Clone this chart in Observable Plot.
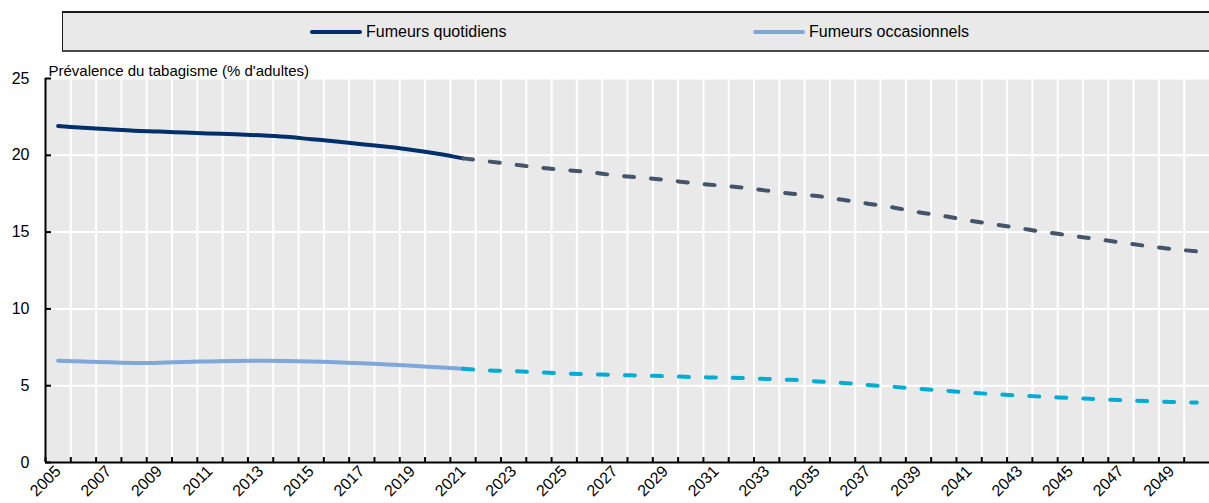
<!DOCTYPE html>
<html><head><meta charset="utf-8">
<script src="https://cdn.jsdelivr.net/npm/d3@7"></script>
<script src="https://cdn.jsdelivr.net/npm/@observablehq/plot@0.6"></script>
<style>
body{margin:0;background:#fff;font-family:"Liberation Sans",Arial,sans-serif;}
#legend{position:relative;width:1209px;height:52px;overflow:hidden;}
#legend .box{position:absolute;left:62px;top:11px;right:-2px;height:37px;background:#e9e9e9;border-top:2px solid #1a1a1a;border-bottom:2px solid #4a4a4a;border-left:1px solid #1a1a1a;}
.item{position:absolute;top:13px;height:37px;display:flex;align-items:center;font-size:16px;color:#000;white-space:nowrap}
.sw{display:inline-block;width:52px;height:4px;border-radius:2px;margin-right:4px}
</style></head><body>
<div id="legend"><div class="box"></div></div>
<div id="chart"></div>
<script>
const seriesNames = ["Fumeurs quotidiens", "Fumeurs occasionnels"];
const histYears = [2005,2006,2007,2008,2009,2010,2011,2012,2013,2014,2015,2016,2017,2018,2019,2020,2021];
const dailyHist = [21.9,21.8,21.7,21.6,21.55,21.48,21.42,21.37,21.3,21.2,21.05,20.9,20.72,20.55,20.35,20.1,19.8];
const occasHist = [6.63,6.57,6.52,6.48,6.5,6.55,6.58,6.61,6.62,6.61,6.58,6.52,6.46,6.38,6.3,6.2,6.1];
const projYears = [2021,2022,2023,2024,2025,2026,2027,2028,2029,2030,2031,2032,2033,2034,2035,2036,2037,2038,2039,2040,2041,2042,2043,2044,2045,2046,2047,2048,2049,2050];
const dailyProj = [19.8,19.6,19.4,19.2,19.05,18.9,18.7,18.55,18.4,18.2,18.05,17.9,17.7,17.5,17.35,17.1,16.85,16.6,16.3,16.05,15.75,15.5,15.25,15.0,14.78,14.55,14.33,14.1,13.9,13.75];
const occasProj = [6.1,6.0,5.95,5.87,5.8,5.75,5.7,5.66,5.62,5.57,5.53,5.5,5.44,5.38,5.28,5.18,5.05,4.93,4.8,4.68,4.55,4.45,4.36,4.28,4.2,4.13,4.06,4.0,3.94,3.9];
const yTicks = [0,5,10,15,20,25];
const xLabelYears = [2005,2007,2009,2011,2013,2015,2017,2019,2021,2023,2025,2027,2029,2031,2033,2035,2037,2039,2041,2043,2045,2047,2049];
const yLabel = "Prévalence du tabagisme (% d'adultes)";
const colors = {dailySolid:"#002f6c", dailyDash:"#44546a", occasSolid:"#7fa8d9", occasDash:"#00acd3"};

// legend
const legend = document.getElementById("legend");
[[seriesNames[0], colors.dailySolid, 310], [seriesNames[1], colors.occasSolid, 753]].forEach(([name, c, left]) => {
  const it = document.createElement("div");
  it.className = "item";
  it.style.left = left + "px";
  it.innerHTML = `<span class="sw" style="background:${c}"></span><span>${name}</span>`;
  legend.appendChild(it);
});

const allYears = Array.from(new Set([...histYears, ...projYears])).sort((a,b)=>a-b);
const boundaries = allYears.slice(0, -1).map(y => y + 0.5);
const x0 = allYears[0] - 0.5, x1 = allYears[allYears.length-1] + 0.5;

const rows = (years, vals) => years.map((year, i) => ({year, value: vals[i]}));

const chart = Plot.plot({
  width: 1209, height: 451,
  marginLeft: 45, marginRight: 0, marginTop: 26, marginBottom: 41,
  style: {fontFamily: '"Liberation Sans", Arial, sans-serif', fontSize: "15px", color: "#000", background: "transparent", overflow: "visible"},
  x: {domain: [x0, x1], label: null},
  y: {domain: [0, 25], label: null},
  marks: [
    Plot.frame({fill: "#e9e9e9", stroke: null}),
    Plot.ruleX(boundaries, {stroke: "#fff", strokeWidth: 2}),
    Plot.ruleY(yTicks.filter(d => d > 0), {stroke: "#fff", strokeWidth: 2}),
    Plot.line(rows(histYears, dailyHist), {x: "year", y: "value", stroke: colors.dailySolid, strokeWidth: 4, curve: "monotone-x", strokeLinecap: "round"}),
    Plot.line(rows(histYears, occasHist), {x: "year", y: "value", stroke: colors.occasSolid, strokeWidth: 4, curve: "monotone-x", strokeLinecap: "round"}),
    Plot.line(rows(projYears, dailyProj), {x: "year", y: "value", stroke: colors.dailyDash, strokeWidth: 4, curve: "monotone-x", strokeDasharray: "10,17", strokeLinecap: "round"}),
    Plot.line(rows(projYears, occasProj), {x: "year", y: "value", stroke: colors.occasDash, strokeWidth: 4, curve: "monotone-x", strokeDasharray: "10,17", strokeLinecap: "round"}),
    Plot.ruleX([x0], {stroke: "#000", strokeWidth: 2}),
    Plot.ruleY([0], {stroke: "#000", strokeWidth: 2}),
    Plot.axisY(yTicks, {tickSize: 6, dx: 6, text: null, stroke: "#000", strokeWidth: 2, label: null}),
    Plot.axisY(yTicks, {tickSize: 0, tickPadding: 16, fontSize: 16, label: null}),
    Plot.axisX([x0, ...boundaries], {tickSize: 5, dy: -5, text: null, stroke: "#000", strokeWidth: 2, label: null}),
    Plot.axisX(xLabelYears, {tickSize: 0, tickRotate: -45, tickPadding: 6, fontSize: 16, label: null, tickFormat: d => String(d)}),
    Plot.text([yLabel], {frameAnchor: "top-left", textAnchor: "start", lineAnchor: "bottom", dx: 3, dy: -3, fontSize: 15})
  ]
});
document.getElementById("chart").appendChild(chart);
</script>
</body></html>
